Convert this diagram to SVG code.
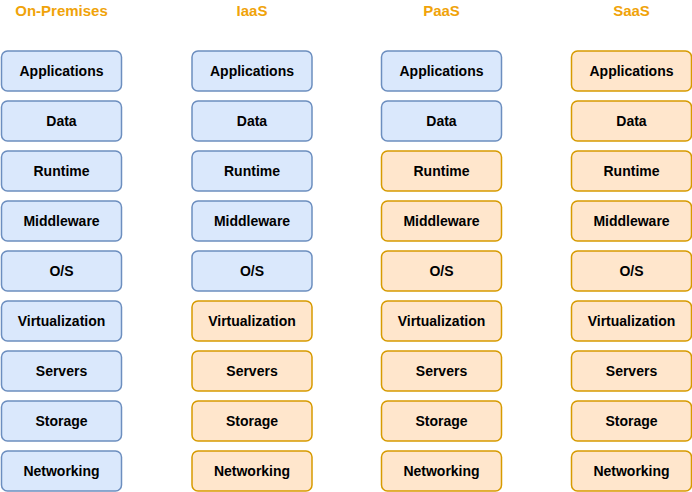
<svg xmlns="http://www.w3.org/2000/svg" width="692" height="492" viewBox="0 0 692 492">
<style>
.t{font-family:"Liberation Sans",Arial,sans-serif;font-weight:bold;font-size:15px;fill:#f0a30a;text-anchor:middle}
.l{font-family:"Liberation Sans",Arial,sans-serif;font-weight:bold;font-size:14px;fill:#000;text-anchor:middle}
.b rect{fill:#dae8fc;stroke:#6c8ebf;stroke-width:1.5}
.o rect{fill:#ffe6cc;stroke:#d79b00;stroke-width:1.5}
</style>
<g id="titles">
<text class="t" x="61.5" y="15.5">On-Premises</text>
<text class="t" x="252" y="15.5">IaaS</text>
<text class="t" x="441.5" y="15.5">PaaS</text>
<text class="t" x="631.5" y="15.5">SaaS</text>
</g>
<g id="col-onprem">
<g id="op-apps" class="b"><rect x="1.5" y="51" width="120" height="40" rx="6"/><text class="l" x="61.5" y="76">Applications</text></g>
<g id="op-data" class="b"><rect x="1.5" y="101" width="120" height="40" rx="6"/><text class="l" x="61.5" y="126">Data</text></g>
<g id="op-runtime" class="b"><rect x="1.5" y="151" width="120" height="40" rx="6"/><text class="l" x="61.5" y="176">Runtime</text></g>
<g id="op-mw" class="b"><rect x="1.5" y="201" width="120" height="40" rx="6"/><text class="l" x="61.5" y="226">Middleware</text></g>
<g id="op-os" class="b"><rect x="1.5" y="251" width="120" height="40" rx="6"/><text class="l" x="61.5" y="276">O/S</text></g>
<g id="op-virt" class="b"><rect x="1.5" y="301" width="120" height="40" rx="6"/><text class="l" x="61.5" y="326">Virtualization</text></g>
<g id="op-servers" class="b"><rect x="1.5" y="351" width="120" height="40" rx="6"/><text class="l" x="61.5" y="376">Servers</text></g>
<g id="op-storage" class="b"><rect x="1.5" y="401" width="120" height="40" rx="6"/><text class="l" x="61.5" y="426">Storage</text></g>
<g id="op-net" class="b"><rect x="1.5" y="451" width="120" height="40" rx="6"/><text class="l" x="61.5" y="476">Networking</text></g>
</g>
<g id="col-iaas">
<g id="ia-apps" class="b"><rect x="192" y="51" width="120" height="40" rx="6"/><text class="l" x="252" y="76">Applications</text></g>
<g id="ia-data" class="b"><rect x="192" y="101" width="120" height="40" rx="6"/><text class="l" x="252" y="126">Data</text></g>
<g id="ia-runtime" class="b"><rect x="192" y="151" width="120" height="40" rx="6"/><text class="l" x="252" y="176">Runtime</text></g>
<g id="ia-mw" class="b"><rect x="192" y="201" width="120" height="40" rx="6"/><text class="l" x="252" y="226">Middleware</text></g>
<g id="ia-os" class="b"><rect x="192" y="251" width="120" height="40" rx="6"/><text class="l" x="252" y="276">O/S</text></g>
<g id="ia-virt" class="o"><rect x="192" y="301" width="120" height="40" rx="6"/><text class="l" x="252" y="326">Virtualization</text></g>
<g id="ia-servers" class="o"><rect x="192" y="351" width="120" height="40" rx="6"/><text class="l" x="252" y="376">Servers</text></g>
<g id="ia-storage" class="o"><rect x="192" y="401" width="120" height="40" rx="6"/><text class="l" x="252" y="426">Storage</text></g>
<g id="ia-net" class="o"><rect x="192" y="451" width="120" height="40" rx="6"/><text class="l" x="252" y="476">Networking</text></g>
</g>
<g id="col-paas">
<g id="pa-apps" class="b"><rect x="381.5" y="51" width="120" height="40" rx="6"/><text class="l" x="441.5" y="76">Applications</text></g>
<g id="pa-data" class="b"><rect x="381.5" y="101" width="120" height="40" rx="6"/><text class="l" x="441.5" y="126">Data</text></g>
<g id="pa-runtime" class="o"><rect x="381.5" y="151" width="120" height="40" rx="6"/><text class="l" x="441.5" y="176">Runtime</text></g>
<g id="pa-mw" class="o"><rect x="381.5" y="201" width="120" height="40" rx="6"/><text class="l" x="441.5" y="226">Middleware</text></g>
<g id="pa-os" class="o"><rect x="381.5" y="251" width="120" height="40" rx="6"/><text class="l" x="441.5" y="276">O/S</text></g>
<g id="pa-virt" class="o"><rect x="381.5" y="301" width="120" height="40" rx="6"/><text class="l" x="441.5" y="326">Virtualization</text></g>
<g id="pa-servers" class="o"><rect x="381.5" y="351" width="120" height="40" rx="6"/><text class="l" x="441.5" y="376">Servers</text></g>
<g id="pa-storage" class="o"><rect x="381.5" y="401" width="120" height="40" rx="6"/><text class="l" x="441.5" y="426">Storage</text></g>
<g id="pa-net" class="o"><rect x="381.5" y="451" width="120" height="40" rx="6"/><text class="l" x="441.5" y="476">Networking</text></g>
</g>
<g id="col-saas">
<g id="sa-apps" class="o"><rect x="571.5" y="51" width="120" height="40" rx="6"/><text class="l" x="631.5" y="76">Applications</text></g>
<g id="sa-data" class="o"><rect x="571.5" y="101" width="120" height="40" rx="6"/><text class="l" x="631.5" y="126">Data</text></g>
<g id="sa-runtime" class="o"><rect x="571.5" y="151" width="120" height="40" rx="6"/><text class="l" x="631.5" y="176">Runtime</text></g>
<g id="sa-mw" class="o"><rect x="571.5" y="201" width="120" height="40" rx="6"/><text class="l" x="631.5" y="226">Middleware</text></g>
<g id="sa-os" class="o"><rect x="571.5" y="251" width="120" height="40" rx="6"/><text class="l" x="631.5" y="276">O/S</text></g>
<g id="sa-virt" class="o"><rect x="571.5" y="301" width="120" height="40" rx="6"/><text class="l" x="631.5" y="326">Virtualization</text></g>
<g id="sa-servers" class="o"><rect x="571.5" y="351" width="120" height="40" rx="6"/><text class="l" x="631.5" y="376">Servers</text></g>
<g id="sa-storage" class="o"><rect x="571.5" y="401" width="120" height="40" rx="6"/><text class="l" x="631.5" y="426">Storage</text></g>
<g id="sa-net" class="o"><rect x="571.5" y="451" width="120" height="40" rx="6"/><text class="l" x="631.5" y="476">Networking</text></g>
</g>
<g id="connectors"/>
</svg>
